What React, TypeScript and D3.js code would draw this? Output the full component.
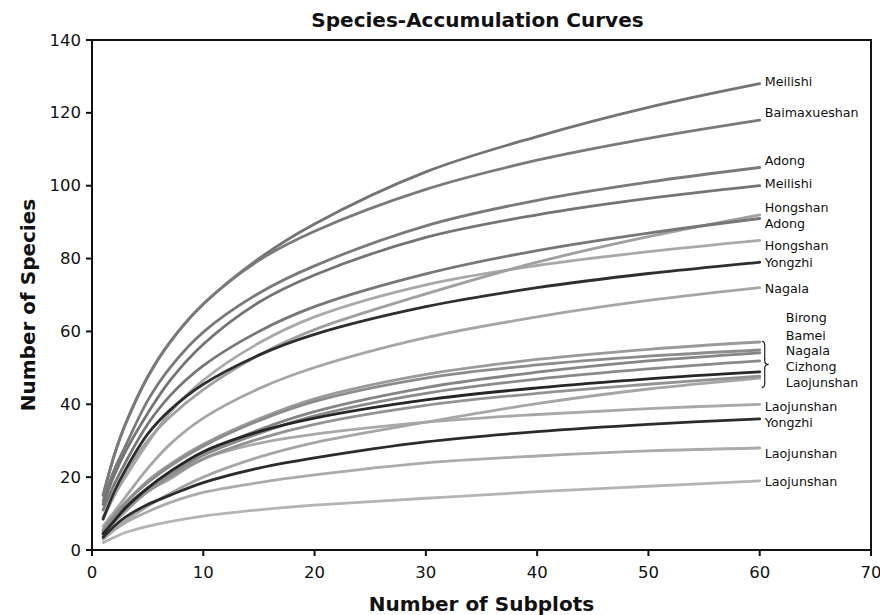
import React from 'react';
import * as d3 from 'd3';

// ---------- data ----------
const subplots = [1, 2, 3, 5, 7, 10, 15, 20, 30, 40, 50, 60];

const meilishiA = [15, 26, 34.5, 47.5, 57, 67.5, 80, 89.5, 103.8, 113.5, 121.5, 128];
const baimaxueshan = [15, 26, 34.5, 47.5, 57, 67.5, 79.5, 87.5, 99, 107, 113, 118];
const adongA = [13.5, 22, 28.5, 41, 50, 59.8, 70.5, 78, 89, 96, 101, 105];
const meilishiB = [12.5, 20.5, 27, 37.5, 46.5, 56.5, 68, 75.5, 85.8, 92, 96.5, 100];
const hongshanA = [8.5, 15, 21, 30, 36.5, 44, 53.5, 60.5, 70.3, 79, 86, 92];
const adongB = [11, 18, 24, 34.5, 42.3, 50.6, 60, 66.8, 75.8, 82.2, 87, 91];
const hongshanB = [9, 15, 20, 29.3, 37.7, 46.6, 56.8, 64, 72.8, 78.1, 81.9, 85];
const yongzhiA = [8.5, 16, 22, 31.8, 38.4, 45.5, 53.5, 59.2, 66.8, 72, 75.9, 79];
const nagalaA = [6.5, 10.5, 14.5, 22.4, 29, 36.2, 44.3, 50.1, 58.3, 64, 68.5, 72];
const birong = [5.5, 9.5, 13, 19, 23.5, 29, 36, 41.5, 48.2, 52.3, 55.1, 57.1];
const bamei = [5.5, 9.5, 13, 18.5, 23, 28.5, 35.5, 40.8, 47.2, 50.8, 53.2, 54.9];
const nagalaB = [5, 8.5, 12, 17, 21, 26.5, 33, 38, 44.6, 48.8, 51.9, 54.1];
const cizhong = [5, 8.5, 11.5, 16.5, 20.5, 26, 32, 36.8, 43, 46.9, 49.7, 51.9];
const laojunshanA = [4.5, 8, 11.5, 17, 21.5, 27, 32.5, 36.2, 41.2, 44.5, 47, 48.9];
const laojunshanB = [4.5, 8, 11, 16, 20, 25, 30.5, 34.5, 39.7, 43, 45.5, 47.7];
const laojunshanC = [3, 5.5, 8, 12, 15.5, 20, 25.5, 29.5, 35.1, 40.2, 44.2, 47.2];
const laojunshanD = [4, 7.5, 10.5, 16, 19.5, 25, 29.3, 31.8, 35.1, 37.2, 38.8, 40];
const yongzhiB = [3.5, 6.5, 9, 12.5, 15, 18.5, 22.5, 25.3, 29.7, 32.5, 34.5, 36];
const laojunshanE = [3, 5.5, 7.5, 10.5, 13, 15.8, 18.5, 20.6, 23.9, 25.8, 27.2, 28];
const laojunshanF = [2, 3.5, 4.8, 6.5, 7.8, 9.3, 11, 12.3, 14.2, 16, 17.5, 19];

const seriesValues = [
  laojunshanF, laojunshanE, laojunshanD, laojunshanC, nagalaA, hongshanB, hongshanA,
  birong, bamei, nagalaB, cizhong, laojunshanB,
  meilishiA, baimaxueshan, adongA, meilishiB, adongB,
  yongzhiB, laojunshanA, yongzhiA,
];
// style (kept apart from the data)
const seriesColors = [
  '#b4b4b4', '#ababab', '#a9a9a9', '#a6a6a6', '#a6a6a6', '#a9a9a9', '#a0a0a0',
  '#9a9a9a', '#8c8c8c', '#858585', '#8a8a8a', '#939393',
  '#747474', '#7a7a7a', '#7a7a7a', '#747474', '#777777',
  '#2b2b2b', '#262626', '#2e2e2e',
];

const labelNames = [
  'Meilishi', 'Baimaxueshan', 'Adong', 'Meilishi', 'Hongshan', 'Adong', 'Hongshan',
  'Yongzhi', 'Nagala', 'Birong', 'Bamei', 'Nagala', 'Cizhong', 'Laojunshan',
  'Laojunshan', 'Yongzhi', 'Laojunshan', 'Laojunshan',
];
const labelValues = [128.5, 120, 106.8, 100.5, 93.9, 89.5, 83.7, 78.8, 71.9, 63.7, 59, 54.9, 50.5, 46.1, 39.4, 34.9, 26.6, 18.8];
const labelGrouped = [false, false, false, false, false, false, false, false, false, true, true, true, true, true, false, false, false, false];
const braceRange = [57.3, 44.6];

const xTicks = [0, 10, 20, 30, 40, 50, 60, 70];
const yTicks = [0, 20, 40, 60, 80, 100, 120, 140];

const title = 'Species-Accumulation Curves';
const xTitle = 'Number of Subplots';
const yTitle = 'Number of Species';

// ---------- layout ----------
const W = 880;
const H = 615;
const M = { left: 92, right: 9, top: 40, bottom: 65 };
const FONT = 'DejaVu Sans, Verdana, sans-serif';

export default function App() {
  const x = d3.scaleLinear().domain([0, 70]).range([M.left, W - M.right]);
  const y = d3.scaleLinear().domain([0, 140]).range([H - M.bottom, M.top]);

  const line = d3
    .line<number>()
    .x((_, i) => x(subplots[i]))
    .y((d) => y(d))
    .curve(d3.curveCatmullRom.alpha(0.5));

  const x60 = x(60);
  const bt = y(braceRange[0]);
  const bb = y(braceRange[1]);
  const bm = (bt + bb) / 2;
  const bx = x60 + 5;
  const brace = `M${bx - 3},${bt} Q${bx},${bt} ${bx},${bt + 4} L${bx},${bm - 4} Q${bx},${bm} ${bx + 4},${bm} Q${bx},${bm} ${bx},${bm + 4} L${bx},${bb - 4} Q${bx},${bb} ${bx - 3},${bb}`;

  return (
    <svg
      width={W}
      height={H}
      viewBox={`0 0 ${W} ${H}`}
      style={{ position: 'absolute', left: 0, top: 0, background: '#fff' }}
      fontFamily={FONT}
    >
      <rect x={0} y={0} width={W} height={H} fill="#fff" />
      <text x={(x(0) + x(70)) / 2 - 4} y={27} textAnchor="middle" fontSize={20} fontWeight="bold" fill="#111">
        {title}
      </text>

      {seriesValues.map((vals, i) => (
        <path
          key={i}
          d={line(vals) || ''}
          fill="none"
          stroke={seriesColors[i]}
          strokeWidth={2.8}
          strokeLinecap="round"
        />
      ))}

      {/* frame */}
      <rect
        x={x(0)}
        y={y(140)}
        width={x(70) - x(0)}
        height={y(0) - y(140)}
        fill="none"
        stroke="#111"
        strokeWidth={2}
      />

      {/* y ticks */}
      {yTicks.map((t) => (
        <g key={'y' + t}>
          <line x1={x(0) - 6} x2={x(0)} y1={y(t)} y2={y(t)} stroke="#111" strokeWidth={2} />
          <text x={x(0) - 11} y={y(t)} textAnchor="end" dominantBaseline="central" fontSize={16.5} fill="#111">
            {t}
          </text>
        </g>
      ))}
      {/* x ticks */}
      {xTicks.map((t) => (
        <g key={'x' + t}>
          <line x1={x(t)} x2={x(t)} y1={y(0)} y2={y(0) + 6} stroke="#111" strokeWidth={2} />
          <text x={x(t)} y={y(0) + 28} textAnchor="middle" fontSize={16.5} fill="#111">
            {t}
          </text>
        </g>
      ))}

      {/* labels */}
      {labelNames.map((n, i) => (
        <text
          key={'l' + i}
          x={labelGrouped[i] ? x60 + 26 : x60 + 5}
          y={y(labelValues[i])}
          dominantBaseline="central"
          fontSize={12.7}
          fill="#111"
        >
          {n}
        </text>
      ))}
      <path d={brace} fill="none" stroke="#222" strokeWidth={1.2} />

      <text x={(x(0) + x(70)) / 2} y={611} textAnchor="middle" fontSize={20} fontWeight="bold" fill="#111">
        {xTitle}
      </text>
      <text
        transform={`translate(35, ${(y(0) + y(140)) / 2 + 10}) rotate(-90)`}
        textAnchor="middle"
        fontSize={20}
        fontWeight="bold"
        fill="#111"
      >
        {yTitle}
      </text>
    </svg>
  );
}
